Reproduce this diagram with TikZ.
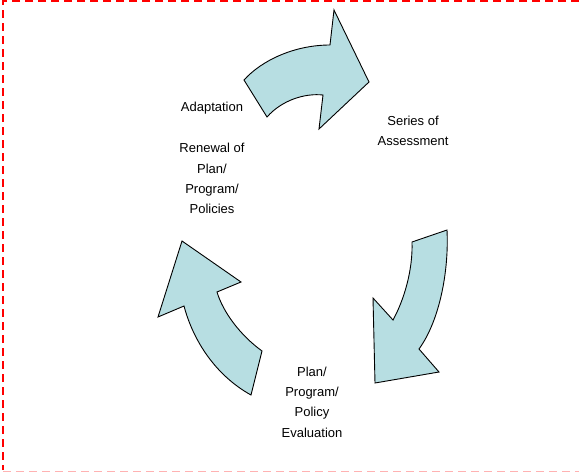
\documentclass[tikz,border=0pt]{standalone}
\usepackage{fontspec}
\setmainfont{Liberation Sans}
\begin{document}
\begin{tikzpicture}[x=1pt,y=-1pt,
  cyclearrow/.style={draw=black,line width=0.9pt,fill=arrowfill,line join=miter},
  lbl/.style={align=center,font=\fontsize{13}{20.3}\selectfont,inner sep=0pt}]
\definecolor{arrowfill}{HTML}{B7DEE2}
\useasboundingbox (0,0) rectangle (579,472);
% frame
\draw[red,line width=2pt,dash pattern=on 8pt off 5pt] (579,1) -- (3,1) -- (3,470);
\draw[red!30,line width=1pt,dash pattern=on 8pt off 5pt] (3,471) -- (579,471);
% top arrow
\draw[cyclearrow] (244,80) .. controls (262,60) and (295,45) .. (330,45)
  -- (334,10) -- (369,82) -- (319,129) -- (323,95)
  .. controls (305,93) and (282,100) .. (267,117) -- cycle;
% right arrow
\draw[cyclearrow] (412,242) -- (447,230) .. controls (449,270) and (440,320) .. (419,349)
  -- (439,372) -- (375,383) -- (373,298) -- (393,320)
  .. controls (404,300) and (413,270) .. (412,242) -- cycle;
% left arrow
\draw[cyclearrow] (251,395) -- (262,351) .. controls (240,335) and (223,312) .. (217,292)
  -- (241,282) -- (182,241) -- (158,317) -- (184,306)
  .. controls (193,340) and (215,375) .. (251,395) -- cycle;
% labels
\node[lbl] (adapt) at (212,108) {Adaptation};
\node[lbl] (renew) at (212,178.5) {Renewal of\\Plan/\\Program/\\Policies};
\node[lbl] (series) at (413,130.5) {Series of\\Assessment};
\node[lbl] (evalu) at (312,402) {Plan/\\Program/\\Policy\\Evaluation};
\end{tikzpicture}
\end{document}
